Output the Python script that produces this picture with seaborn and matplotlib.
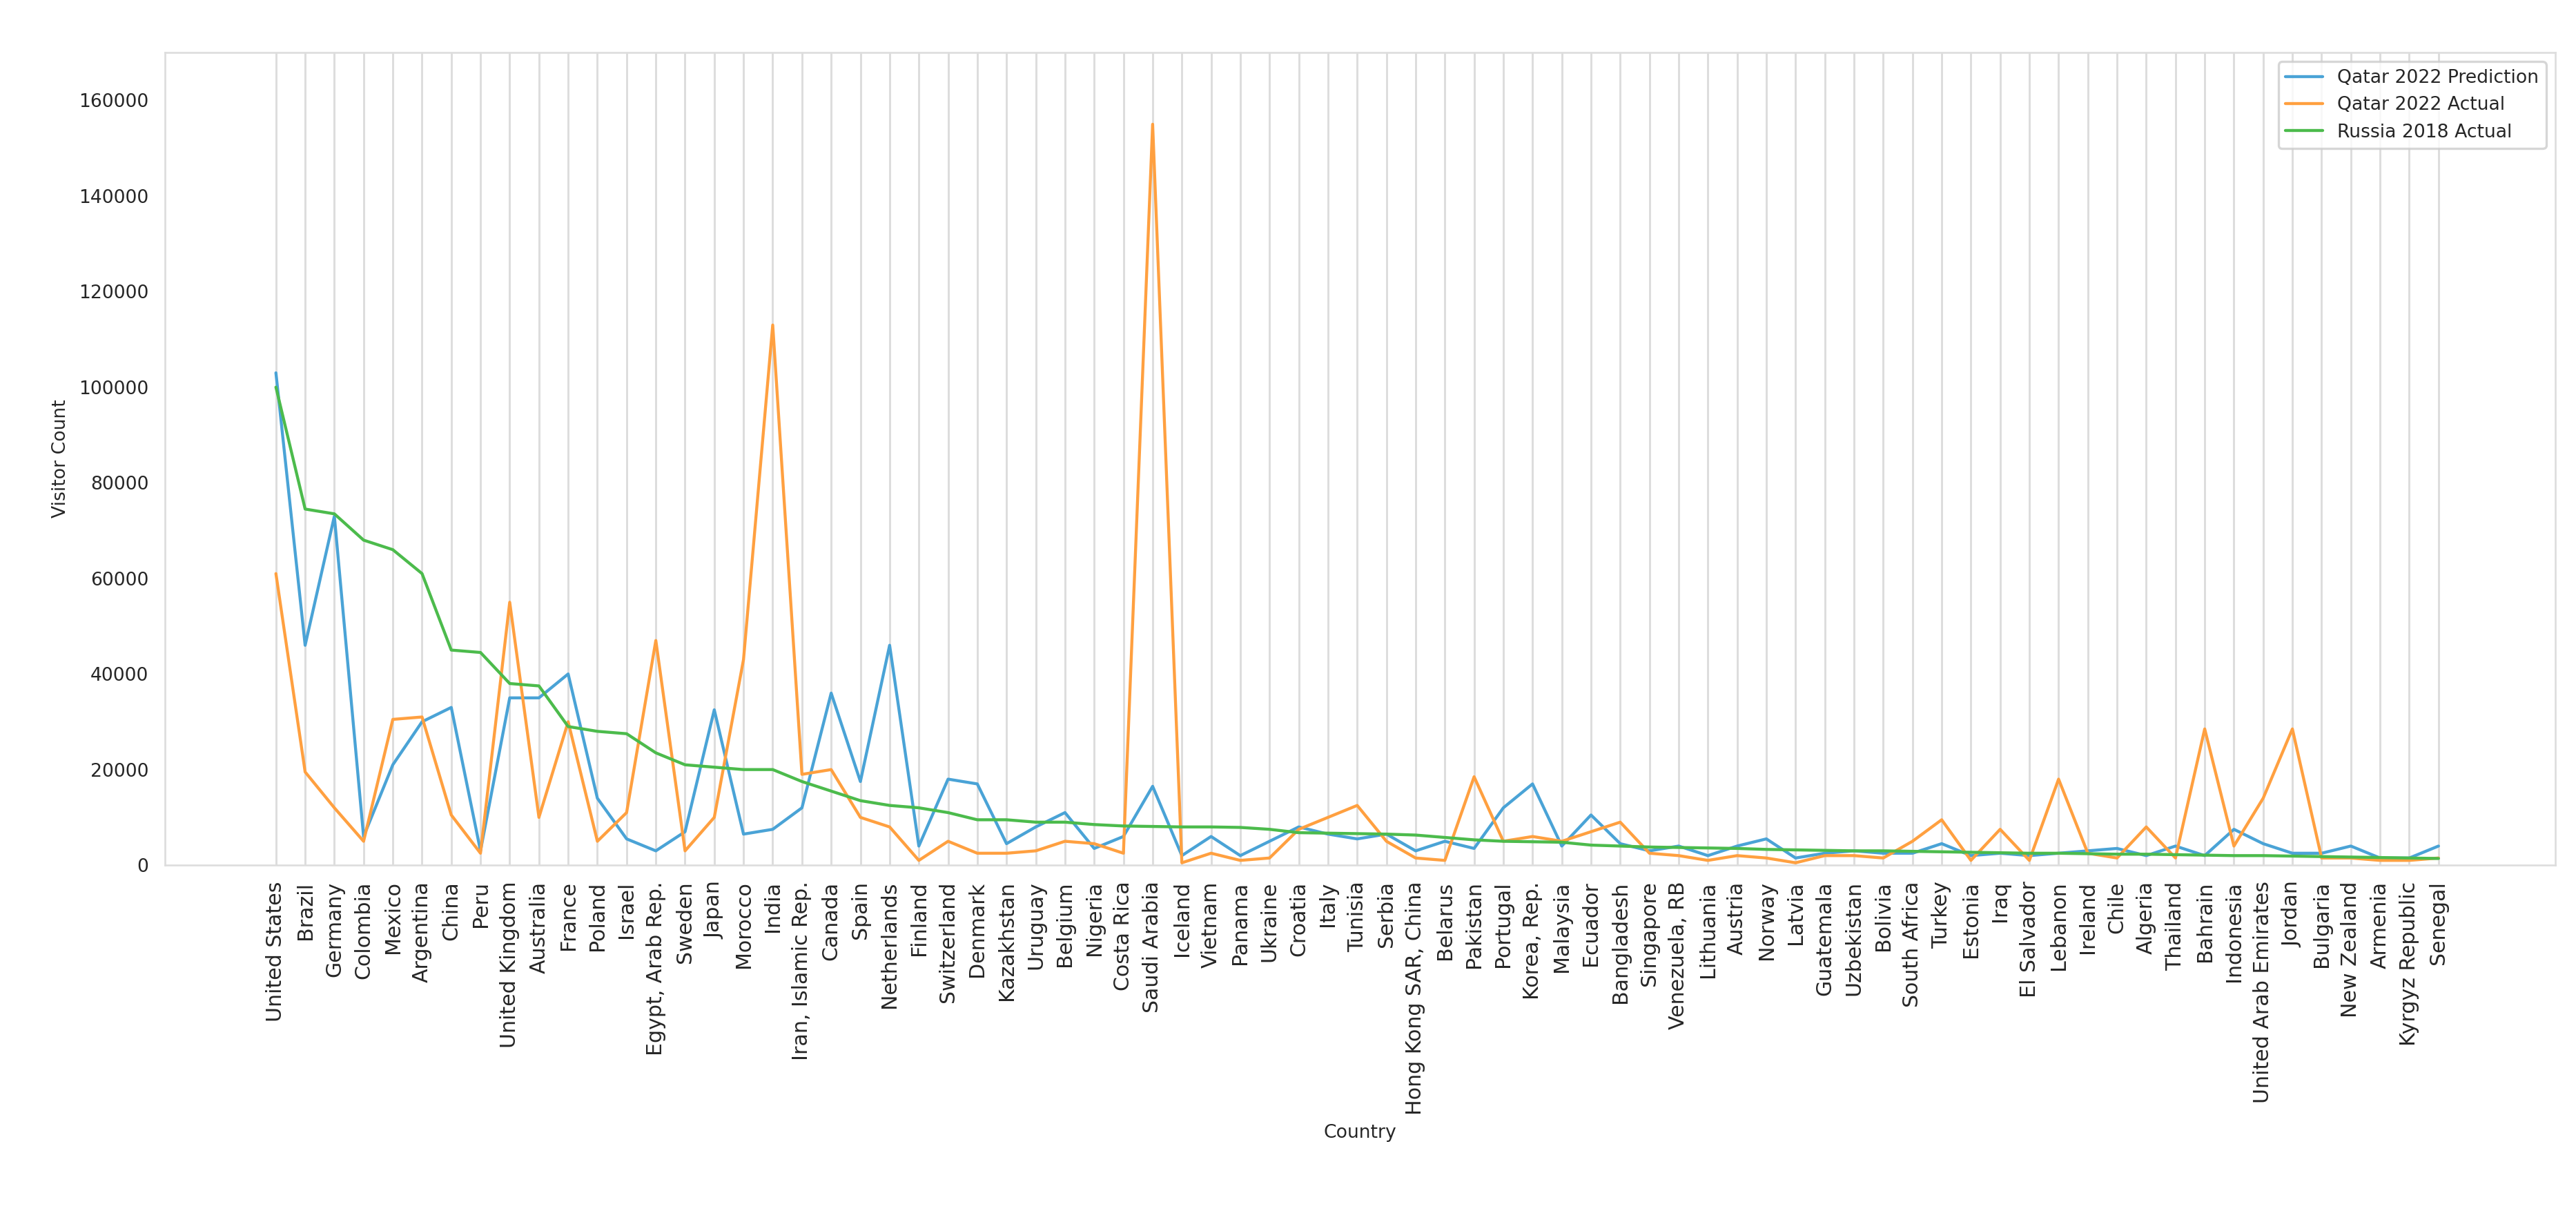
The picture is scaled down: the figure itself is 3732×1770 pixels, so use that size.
import pandas as pd
import numpy as np
import matplotlib.pyplot as plt
import seaborn as sns

countries = ["United States", "Brazil", "Germany", "Colombia", "Mexico", "Argentina", "China", "Peru",
             "United Kingdom", "Australia", "France", "Poland", "Israel", "Egypt, Arab Rep.", "Sweden", "Japan",
             "Morocco", "India", "Iran, Islamic Rep.", "Canada", "Spain", "Netherlands", "Finland", "Switzerland",
             "Denmark", "Kazakhstan", "Uruguay", "Belgium", "Nigeria", "Costa Rica", "Saudi Arabia", "Iceland",
             "Vietnam", "Panama", "Ukraine", "Croatia", "Italy", "Tunisia", "Serbia", "Hong Kong SAR, China",
             "Belarus", "Pakistan", "Portugal", "Korea, Rep.", "Malaysia", "Ecuador", "Bangladesh", "Singapore",
             "Venezuela, RB", "Lithuania", "Austria", "Norway", "Latvia", "Guatemala", "Uzbekistan", "Bolivia",
             "South Africa", "Turkey", "Estonia", "Iraq", "El Salvador", "Lebanon", "Ireland", "Chile", "Algeria",
             "Thailand", "Bahrain", "Indonesia", "United Arab Emirates", "Jordan", "Bulgaria", "New Zealand",
             "Armenia", "Kyrgyz Republic", "Senegal"]

prediction = [103000, 46000, 73000, 6000, 21000, 30000, 33000, 3000, 35000, 35000, 40000, 14000, 5500, 3000,
              7000, 32500, 6500, 7500, 12000, 36000, 17500, 46000, 4000, 18000, 17000, 4500, 8000, 11000, 3500,
              6000, 16500, 2000, 6000, 2000, 5000, 8000, 6500, 5500, 6500, 3000, 5000, 3500, 12000, 17000, 4000,
              10500, 4500, 3000, 4000, 2000, 4000, 5500, 1500, 2500, 3000, 2500, 2500, 4500, 2000, 2500, 2000,
              2500, 3000, 3500, 2000, 4000, 2000, 7500, 4500, 2500, 2500, 4000, 1500, 1500, 4000]

actual = [61000, 19500, 12000, 5000, 30500, 31000, 10500, 2500, 55000, 10000, 30000, 5000, 11000, 47000, 3000,
          10000, 43000, 113000, 19000, 20000, 10000, 8000, 1000, 5000, 2500, 2500, 3000, 5000, 4500, 2500,
          155000, 500, 2500, 1000, 1500, 7500, 10000, 12500, 5000, 1500, 1000, 18500, 5000, 6000, 5000, 7000,
          9000, 2500, 2000, 1000, 2000, 1500, 500, 2000, 2000, 1500, 5000, 9500, 1000, 7500, 1000, 18000, 2500,
          1500, 8000, 1500, 28500, 4000, 14000, 28500, 1500, 1500, 1000, 1000, 1500]

russia_2018 = [100000, 74500, 73500, 68000, 66000, 61000, 45000, 44500, 38000, 37500, 29000, 28000, 27500, 23500,
               21000, 20500, 20000, 20000, 17500, 15500, 13500, 12500, 12000, 11000, 9500, 9500, 9000, 9000, 8500,
               8200, 8100, 8000, 8000, 7900, 7500, 6800, 6700, 6600, 6500, 6300, 5800, 5300, 5000, 4900, 4800,
               4200, 4000, 3800, 3700, 3600, 3500, 3300, 3200, 3100, 3000, 3000, 2900, 2800, 2700, 2600, 2500,
               2500, 2400, 2300, 2300, 2200, 2100, 2000, 2000, 1900, 1800, 1700, 1600, 1500, 1400]

series = {"Qatar 2022 Prediction": prediction, "Qatar 2022 Actual": actual, "Russia 2018 Actual": russia_2018}
df = pd.concat([pd.DataFrame({"Country": countries, "Visitor Count": v, "Series": k}) for k, v in series.items()])
df["x"] = df["Country"].map({c: i for i, c in enumerate(countries)})

sns.set_style("whitegrid")
plt.rcParams["font.family"] = ["DejaVu Sans"]

fig = plt.figure(figsize=(15.55, 7.375), dpi=240)
ax = fig.add_axes([0.064, 0.292, 0.928, 0.665])
palette = ["#4aa3d6", "#ffa040", "#4cbb4c"]
sns.lineplot(data=df, x="x", y="Visitor Count", hue="Series", palette=palette, ax=ax, linewidth=1.3)

ax.set_xticks(range(len(countries)))
ax.set_xticklabels(countries, rotation=90, fontsize=9)
ax.tick_params(axis="y", labelsize=8)
ax.set_xlim(-3.8, 78)
ax.set_ylim(0, 170000)
ax.grid(axis="y", visible=False)
ax.grid(axis="x", color="#dddddd", linewidth=0.9)
for s in ax.spines.values():
    s.set_color("#dddddd")
ax.set_xlabel("Country", fontsize=8)
ax.set_ylabel("Visitor Count", fontsize=8)
ax.legend(title=None, loc="upper right", fontsize=8, frameon=True)

fig.savefig("out.png", dpi=240)
